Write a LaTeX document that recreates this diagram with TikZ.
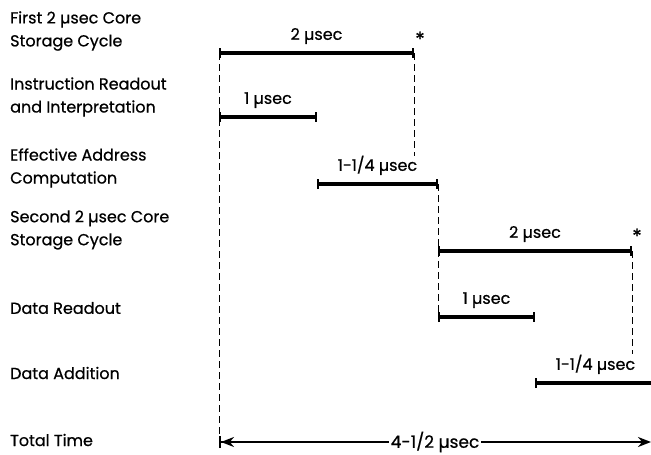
\documentclass[tikz,border=0pt]{standalone}
\usepackage{fontspec}
\setmainfont{Poppins}[FakeBold=0.6]
\usetikzlibrary{arrows.meta,positioning,calc}

\begin{document}
\begin{tikzpicture}[x=1pt,y=-1pt,
  lbl/.style={anchor=west,align=left,inner sep=0pt,font=\fontsize{16}{23}\selectfont},
  dur/.style={above=6pt,inner sep=1pt,font=\fontsize{16}{18}\selectfont},
  bar/.style={line width=4pt,{Bar[width=10pt,line width=1.8pt]}-{Bar[width=10pt,line width=1.8pt]}},
  guide/.style={dashed,line width=1pt,dash pattern=on 7pt off 4pt},
  star/.style={font=\fontsize{20}{20}\selectfont,inner sep=0pt},
  total/.style={line width=2.4pt,{Bar[width=12pt,line width=2pt]Stealth[length=13pt,width=10pt]}-{Stealth[length=13pt,width=10pt]}}]
\useasboundingbox (0,0) rectangle (651,455);

% row labels
\node[lbl] (first) at (10,31) {First 2 µsec Core\\Storage Cycle};
\node[lbl] (instr) at (10,97) {Instruction Readout\\and Interpretation};
\node[lbl] (eff) at (10,168) {Effective Address\\Computation};
\node[lbl] (second) at (10,230) {Second 2 µsec Core\\Storage Cycle};
\node[lbl] (readout) at (10,308) {Data Readout};
\node[lbl] (addition) at (10,373) {Data Addition};
\node[lbl] (total) at (10,440) {Total Time};

% bar ends
\coordinate (firstS) at (219,53);  \coordinate (firstE) at (414,53);
\coordinate (instrS) at (219,117); \coordinate (instrE) at (317,117);
\coordinate (effS) at (317,184);   \coordinate (effE) at (438,184);
\coordinate (secS) at (438,251);   \coordinate (secE) at (632,251);
\coordinate (readS) at (438,317);  \coordinate (readE) at (535,317);
\coordinate (addS) at (535,383);   \coordinate (addE) at (656,383);
\coordinate (totS) at (219,442);   \coordinate (totE) at (651,442);
\coordinate (firstDrop) at (414,156);
\coordinate (secDrop) at (632,354);

% dashed guides
\draw[guide] (firstS) -- (totS);
\draw[guide] (firstE) -- (firstDrop);
\draw[guide] (effE) -- (readS);
\draw[guide] (secE) -- (secDrop);

% timing bars
\draw[bar] (firstS) -- node[dur] (firstT) {2 µsec} (firstE);
\draw[bar] (instrS) -- node[dur] (instrT) {1 µsec} (instrE);
\draw[bar] (effS) -- node[dur] (effT) {1-1/4 µsec} (effE);
\draw[bar] (secS) -- node[dur] (secT) {2 µsec} (secE);
\draw[bar] (readS) -- node[dur] (readT) {1 µsec} (readE);
\draw[bar] (addS) -- node[dur] (addT) {1-1/4 µsec} (addE);
\node[star] (starA) at (420,39) {*};
\node[star] (starB) at (637,236) {*};

\draw[total] (totS) -- node[fill=white,inner sep=2pt,font=\fontsize{17}{19}\selectfont] (totT) {4-1/2 µsec} (totE);
\end{tikzpicture}
\end{document}
